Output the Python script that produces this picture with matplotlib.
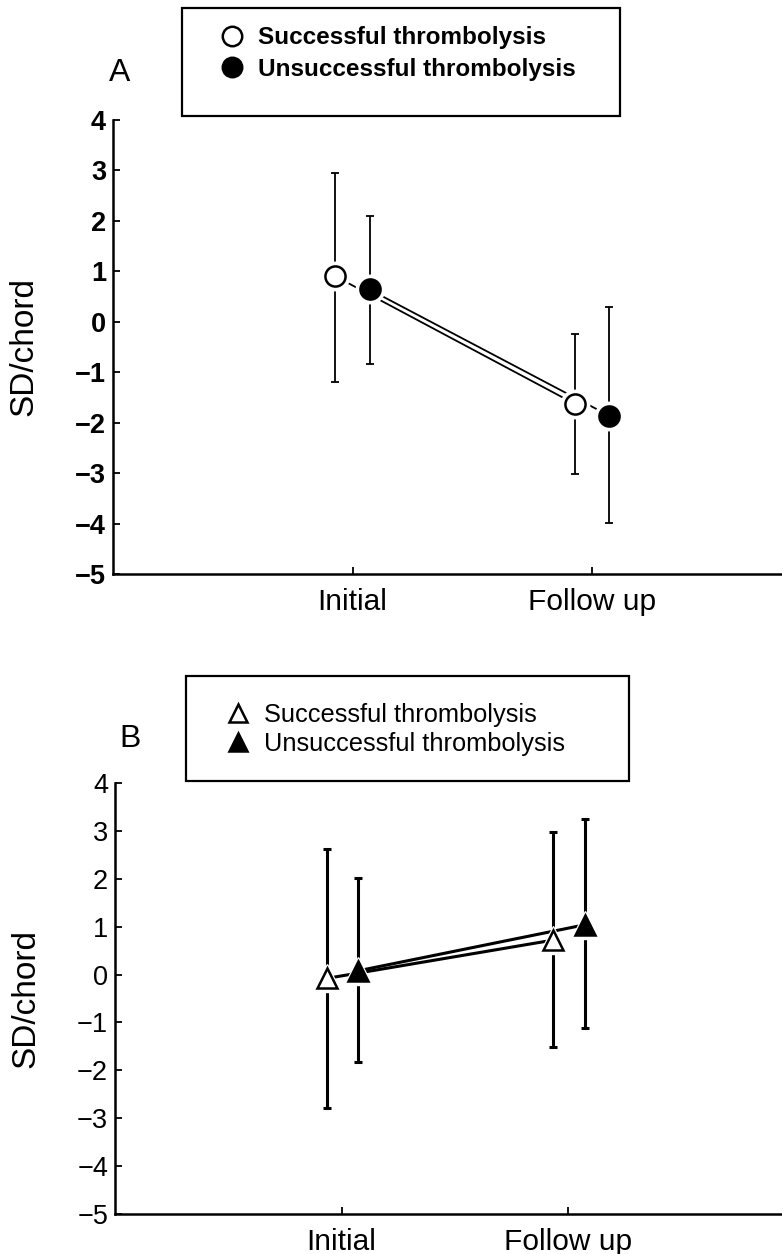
import matplotlib
matplotlib.use('Agg')
import matplotlib.pyplot as plt
from matplotlib.lines import Line2D
from matplotlib.patches import Rectangle

plt.rcParams['font.family'] = ['Liberation Sans', 'DejaVu Sans']

x_labels = ['Initial', 'Follow up']
x_pos = [1, 2]
legend_labels = ['Successful thrombolysis', 'Unsuccessful thrombolysis']

# panel A (circles)
a_succ_mean = [0.90, -1.63]
a_succ_hi = [2.95, -0.24]
a_succ_lo = [-1.19, -3.01]
a_unsucc_mean = [0.64, -1.86]
a_unsucc_hi = [2.09, 0.29]
a_unsucc_lo = [-0.84, -3.99]

# panel B (triangles)
b_succ_mean = [-0.08, 0.72]
b_succ_hi = [2.63, 2.97]
b_succ_lo = [-2.79, -1.51]
b_unsucc_mean = [0.08, 1.04]
b_unsucc_hi = [2.02, 3.24]
b_unsucc_lo = [-1.82, -1.11]

W, H = 782, 1254
fig = plt.figure(figsize=(W / 100, H / 100), dpi=100)


def fig_box(left, top, right, bottom):
    return [left / W, 1 - bottom / H, (right - left) / W, (bottom - top) / H]


def draw_panel(ax, series, marker, lw, ms, tick_weight, xmax):
    for x, mean, hi, lo, fill in series:
        yerr = [[m - l for m, l in zip(mean, lo)], [h - m for m, h in zip(mean, hi)]]
        ax.errorbar(x, mean, yerr=yerr, fmt='none', ecolor='black',
                    elinewidth=lw, capsize=3, capthick=lw, zorder=1)
        ax.plot(x, mean, '-', color='black', lw=lw, zorder=2)
    for x, mean, hi, lo, fill in series:
        ax.plot(x, mean, marker, ms=ms + 6, mfc='white', mec='white', zorder=3)
        ax.plot(x, mean, marker, ms=ms, mfc=fill, mec='black', mew=1.8, zorder=4)
    ax.set_xlim(0, xmax)
    ax.set_ylim(-5, 4)
    ax.set_yticks(range(-5, 5))
    ax.set_yticklabels([str(v).replace('-', '\u2212') for v in range(-5, 5)],
                       fontsize=19.5, fontweight=tick_weight)
    ax.set_xticks(x_pos)
    ax.set_xticklabels(x_labels, fontsize=21.5)
    ax.tick_params(direction='in', length=5, width=1.3, pad=5)
    ax.tick_params(axis='x', pad=10)
    for s in ['top', 'right']:
        ax.spines[s].set_visible(False)
    for s in ['left', 'bottom']:
        ax.spines[s].set_linewidth(1.8)
    ax.set_ylabel('SD/chord', fontsize=24)
    ax.yaxis.set_label_coords(-0.11, 0.5)


# panel A
axA = fig.add_axes(fig_box(113, 120, W, 574))
offA = 0.071
seriesA = [
    ([p - offA for p in x_pos], a_succ_mean, a_succ_hi, a_succ_lo, 'white'),
    ([p + offA for p in x_pos], a_unsucc_mean, a_unsucc_hi, a_unsucc_lo, 'black'),
]
draw_panel(axA, seriesA, 'o', 1.3, 14.5, 'bold', (W - 113) / 239.5)

# panel B
axB = fig.add_axes(fig_box(115, 783, W, 1214))
seriesB = [
    ([p - 0.065 for p in x_pos], b_succ_mean, b_succ_hi, b_succ_lo, 'white'),
    ([p + 0.075 for p in x_pos], b_unsucc_mean, b_unsucc_hi, b_unsucc_lo, 'black'),
]
draw_panel(axB, seriesB, '^', 2.2, 14, 'normal', (W - 115) / 226.5)

# legend frames
fig.patches.append(Rectangle((182 / W, 1 - 116 / H), 438 / W, 108 / H,
                             transform=fig.transFigure, fill=False,
                             edgecolor='black', lw=1.6))
fig.patches.append(Rectangle((186 / W, 1 - 781 / H), 443 / W, 105 / H,
                             transform=fig.transFigure, fill=False,
                             edgecolor='black', lw=1.6))

hA = [Line2D([], [], ls='none', marker='o', ms=14, mfc='white', mec='black', mew=1.8),
      Line2D([], [], ls='none', marker='o', ms=14, mfc='black', mec='black', mew=1.8)]
fig.legend(hA, legend_labels, loc='upper left', bbox_to_anchor=(206 / W, 1 - 14 / H),
           frameon=False, handlelength=1.1, handletextpad=0.55, labelspacing=0.35,
           borderpad=0, prop={'size': 17.5, 'weight': 'bold'})

hB = [Line2D([], [], ls='none', marker='^', ms=13, mfc='white', mec='black', mew=1.8),
      Line2D([], [], ls='none', marker='^', ms=13, mfc='black', mec='black', mew=1.8)]
fig.legend(hB, legend_labels, loc='upper left', bbox_to_anchor=(213 / W, 1 - 690 / H),
           frameon=False, handlelength=1.0, handletextpad=0.5, labelspacing=0.22,
           borderpad=0, prop={'size': 18.3})

fig.text(120 / W, 1 - 73 / H, 'A', fontsize=23, ha='center', va='center')
fig.text(130 / W, 1 - 739 / H, 'B', fontsize=23, ha='center', va='center')

fig.savefig('out.png', dpi=100)
